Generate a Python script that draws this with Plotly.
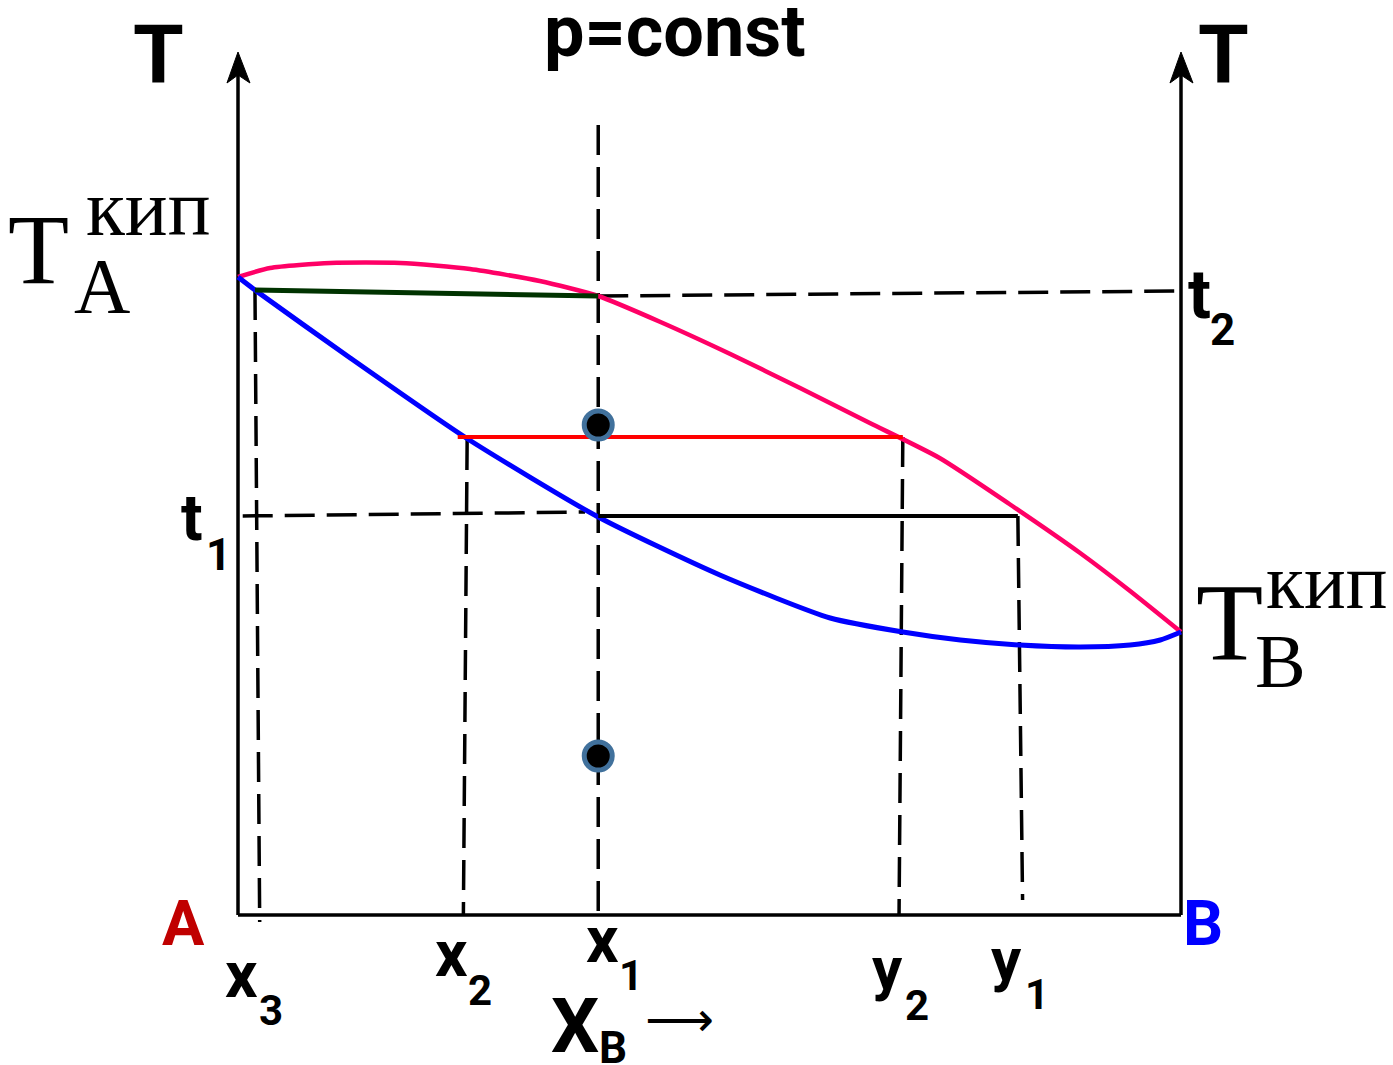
import plotly.graph_objects as go

# ---- data (composition X_B: 0 = pure A, 1 = pure B; temperature in arbitrary units) ----
vapor_x = [0.0, 0.034, 0.098, 0.172, 0.246, 0.320, 0.382, 0.448, 0.522, 0.596,
           0.670, 0.744, 0.818, 0.893, 0.946, 1.0]
vapor_T = [63.8, 64.7, 65.2, 65.2, 64.6, 63.4, 61.9, 59.3, 56.1, 52.7,
           49.2, 45.7, 41.1, 36.2, 32.4, 28.3]

liquid_x = [0.0, 0.018, 0.119, 0.242, 0.382, 0.511, 0.628, 0.705, 0.766, 0.829,
            0.893, 0.946, 0.978, 1.0]
liquid_T = [63.8, 62.5, 55.7, 47.7, 39.8, 34.0, 29.7, 28.3, 27.5, 27.0,
            26.8, 27.0, 27.5, 28.3]

tie_green_x = [0.018, 0.382]
tie_green_T = [62.5, 61.9]
tie_red_x = [0.233, 0.705]
tie_red_T = [47.8, 47.8]
tie_black_x = [0.382, 0.827]
tie_black_T = [39.9, 39.9]

# dashed guide lines: t2, t1, x3, x2, x1, y2, y1
guide_x = [[0.382, 1.0], [0.005, 0.368], [0.018, 0.023], [0.243, 0.239],
           [0.382, 0.382], [0.705, 0.701], [0.827, 0.832]]
guide_T = [[61.9, 62.4], [39.9, 40.3], [62.5, -0.7], [47.5, 0.0],
           [79.0, -0.5], [47.8, 0.0], [39.9, 1.5]]

dot_x = [0.382, 0.382]
dot_T = [49.0, 15.9]

axis_top_T = 84.0
arrow_tip_T = 86.3
arrow_wing_T = 83.2

# ---- pixel helpers for label placement (plot area spans the whole page) ----
X0, XSCALE = 238.0, 943.0
Y0, YSCALE = 915.0, 10.0


def dx(px):
    return (px - X0) / XSCALE


def dy(py):
    return (Y0 - py) / YSCALE


fig = go.Figure()

# dashed guides
for gx, gT in zip(guide_x, guide_T):
    fig.add_trace(go.Scatter(x=gx, y=gT, mode="lines",
                             line=dict(color="black", width=3.5, dash="30px,12px"),
                             hoverinfo="skip"))

# axes frame
fig.add_trace(go.Scatter(x=[0, 0, None, 1, 1, None, 0, 1],
                         y=[0, axis_top_T, None, 0, axis_top_T, None, 0, 0],
                         mode="lines", line=dict(color="black", width=3.5), hoverinfo="skip"))
for ax0 in (0.0, 1.0):
    fig.add_trace(go.Scatter(
        x=[ax0, ax0 - 0.0117, ax0, ax0 + 0.0127, ax0],
        y=[arrow_tip_T, arrow_wing_T, axis_top_T, arrow_wing_T, arrow_tip_T],
        mode="lines", fill="toself", fillcolor="black",
        line=dict(color="black", width=1), hoverinfo="skip"))

# curves
fig.add_trace(go.Scatter(x=vapor_x, y=vapor_T, mode="lines",
                         line=dict(color="#ff0066", width=4.5, shape="spline", smoothing=0.6)))
fig.add_trace(go.Scatter(x=liquid_x, y=liquid_T, mode="lines",
                         line=dict(color="#0000ff", width=5, shape="spline", smoothing=0.6)))

# tie lines
fig.add_trace(go.Scatter(x=tie_green_x, y=tie_green_T, mode="lines",
                         line=dict(color="#003300", width=5)))
fig.add_trace(go.Scatter(x=tie_red_x, y=tie_red_T, mode="lines",
                         line=dict(color="#ff0000", width=4)))
fig.add_trace(go.Scatter(x=tie_black_x, y=tie_black_T, mode="lines",
                         line=dict(color="black", width=4)))

# dots
fig.add_trace(go.Scatter(x=dot_x, y=dot_T, mode="markers",
                         marker=dict(color="black", size=28,
                                     line=dict(color="#41719c", width=5))))

annotations = []
SANS = "Roboto"
SERIF = "Liberation Serif"


def label(text, cx, base, size, family=SANS, color="black", bold=True):
    cy = base - 0.34 * size
    annotations.append(dict(
        x=dx(cx), y=dy(cy), xref="x", yref="y", showarrow=False,
        text=("<b>%s</b>" % text) if bold else text,
        xanchor="center", yanchor="middle",
        font=dict(family=family, size=size, color=color)))


label("p=const", 675, 56, 72)
label("T", 158, 83, 82)
label("T", 1223, 83, 82)

label("T", 38, 283, 100, SERIF, bold=False)
label("кип", 148, 235, 80, SERIF, bold=False)
label("A", 102, 312, 78, SERIF, bold=False)

label("T", 1229, 660, 110, SERIF, bold=False)
label("кип", 1326, 608, 78, SERIF, bold=False)
label("B", 1280, 687, 76, SERIF, bold=False)

label("t", 1199, 318, 68)
label("2", 1222, 345, 44)
label("t", 192, 540, 64)
label("1", 218, 570, 44)

label("A", 183, 945, 63, color="#c00000")
label("B", 1203, 945, 63, color="#0000ff")

label("x", 241, 997, 64)
label("3", 271, 1025, 42)
label("x", 451, 976, 64)
label("2", 480, 1005, 42)
label("x", 602, 962, 64)
label("1", 631, 990, 42)
label("y", 887, 989, 60)
label("2", 917, 1020, 42)
label("y", 1006, 980, 60)
label("1", 1037, 1009, 42)

label("X", 575, 1052, 76)
label("B", 613, 1063, 44)
label("⟶", 679, 1035, 48, "DejaVu Sans", bold=False)

fig.update_layout(
    width=1393, height=1065, autosize=False,
    margin=dict(l=0, r=0, t=0, b=0, pad=0),
    paper_bgcolor="white", plot_bgcolor="white",
    showlegend=False,
    xaxis=dict(range=[dx(0), dx(1393)], visible=False, fixedrange=True),
    yaxis=dict(range=[dy(1065), dy(0)], visible=False, fixedrange=True),
    annotations=annotations,
)

fig.write_html("out.html",
               config={"displayModeBar": False},
               post_script="document.body.style.margin='0';document.body.style.overflow='hidden';")
